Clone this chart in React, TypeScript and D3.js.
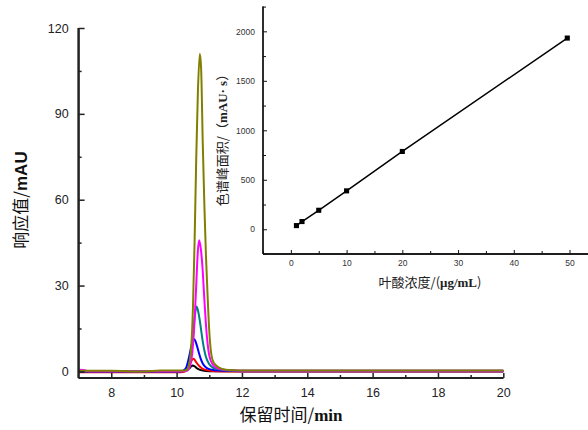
import React, { useEffect, useRef } from 'react';
import * as d3 from 'd3';

// chromatogram traces: [retention time (min), response (mAU)]
const blackTrace: [number, number][] = [[7,0.1],[8,0.05],[9,0],[9.5,0.05],[10,0.05],[10.2,0.1],[10.3,0.3],[10.4,1.2],[10.45,1.8],[10.49,2.1],[10.55,1.8],[10.6,1.3],[10.7,0.6],[10.8,0.3],[11,0.1],[12,0.05],[14,0.05],[16,0.05],[18,0.05],[20,0.05]];
const redTrace: [number, number][] = [[7,-0.3],[8,-0.3],[9,-0.3],[10,-0.3],[10.2,-0.2],[10.3,0.5],[10.4,2.3],[10.45,3.6],[10.51,4.4],[10.55,4.1],[10.6,3.2],[10.7,1.8],[10.8,0.9],[10.9,0.5],[11,0.3],[11.2,0.1],[12,0],[14,0],[16,0],[18,0],[20,0]];
const blueTrace: [number, number][] = [[7,0],[8,0],[9,0],[10,0],[10.15,0.1],[10.25,0.7],[10.3,1.5],[10.35,3.5],[10.4,6],[10.45,8.8],[10.5,10.7],[10.54,11.2],[10.6,9.8],[10.65,7.8],[10.7,5.8],[10.75,4],[10.8,2.8],[10.9,1.4],[11,0.8],[11.2,0.4],[11.5,0.2],[12,0.1],[14,0.1],[16,0.1],[18,0.1],[20,0.1]];
const tealTrace: [number, number][] = [[7,0.1],[8,0.1],[9,0.1],[10,0.1],[10.2,0.1],[10.3,0.4],[10.4,3],[10.45,6.5],[10.5,12],[10.55,18.5],[10.61,22.7],[10.65,21.5],[10.7,18.5],[10.75,14.5],[10.8,10.5],[10.85,7.3],[10.9,5],[11,2.5],[11.1,1.4],[11.2,0.9],[11.4,0.5],[11.7,0.3],[12,0.2],[14,0.2],[16,0.2],[18,0.2],[20,0.2]];
const magentaTrace: [number, number][] = [[7,0.6],[7.15,0.5],[7.3,0.1],[8,0.1],[9,0.1],[10,0.1],[10.2,0.1],[10.3,0.2],[10.4,1.5],[10.5,9],[10.55,18],[10.6,30],[10.65,42],[10.69,45.8],[10.75,42],[10.8,35],[10.85,25],[10.9,16],[10.95,9.5],[11,5.5],[11.1,2.5],[11.2,1.4],[11.3,0.9],[11.5,0.5],[11.8,0.3],[12,0.25],[14,0.25],[16,0.25],[18,0.25],[20,0.25]];
const oliveTrace: [number, number][] = [[7,0.2],[8,0.2],[9,0],[9.5,0.3],[9.9,0.3],[10.2,0.3],[10.3,0.5],[10.35,1.2],[10.4,3.5],[10.45,9],[10.5,22],[10.55,45],[10.6,74],[10.65,97],[10.71,111],[10.75,106],[10.8,80],[10.85,58],[10.9,40],[10.95,26],[11,14],[11.05,7],[11.1,4],[11.2,2.2],[11.3,1.3],[11.5,0.6],[11.8,0.4],[12,0.3],[14,0.3],[16,0.3],[18,0.3],[20,0.3]];

const traces = [blackTrace, redTrace, blueTrace, tealTrace, magentaTrace, oliveTrace];
const traceColors = ['#000000', '#ff0000', '#0000ff', '#008080', '#ff00ff', '#808000'];

// calibration inset
const concentration = [1, 2, 5, 10, 20, 49.6];
const peakArea = [37, 78, 192, 388, 786, 1932];

const W = 588, H = 430;

const App = () => {
  const ref = useRef<SVGSVGElement>(null);

  useEffect(() => {
    const svg = d3.select(ref.current);
    svg.selectAll('*').remove();

    // ---- main chromatogram ----
    const x = d3.scaleLinear().domain([7, 20]).range([78.6, 503.3]);
    const y = d3.scaleLinear().domain([-2.3, 120]).range([378, 28]);
    const axisColor = '#222';

    const line = d3.line<[number, number]>()
      .x(d => x(d[0]))
      .y(d => y(d[1]))
      .curve(d3.curveMonotoneX);

    svg.append('g').selectAll('path').data(traces).enter().append('path')
      .attr('d', d => line(d))
      .attr('fill', 'none')
      .attr('stroke', (d, i) => traceColors[i])
      .attr('stroke-width', 2)
      .attr('stroke-linejoin', 'round');

    const tickFont = '"Liberation Sans", Arial, sans-serif';

    // bottom axis
    const gx = svg.append('g').attr('transform', `translate(0,${y(-2.3)})`);
    gx.call(d3.axisBottom(x).tickValues(d3.range(8, 21, 2)).tickSize(-5).tickPadding(10).tickFormat(d3.format('d')));
    gx.append('g').call(d3.axisBottom(x).tickValues(d3.range(9, 20, 2)).tickSize(-3).tickFormat(() => ''));
    gx.selectAll('.domain').attr('stroke', axisColor).attr('stroke-width', 2).attr('d', `M${x(7)},0H${x(20)}`);
    gx.selectAll('line').attr('stroke', axisColor).attr('stroke-width', 1.5);
    gx.selectAll('text').attr('font-family', tickFont).attr('font-size', 12.5).attr('fill', '#222');

    // left axis
    const gy = svg.append('g').attr('transform', `translate(${x(7)},0)`);
    gy.call(d3.axisLeft(y).tickValues(d3.range(0, 121, 30)).tickSize(-6).tickPadding(10));
    gy.append('g').call(d3.axisLeft(y).tickValues(d3.range(15, 120, 30)).tickSize(-3).tickFormat(() => ''));
    gy.selectAll('.domain').attr('stroke', axisColor).attr('stroke-width', 2).attr('d', `M0,${y(120)}V${y(-2.3)}`);
    gy.selectAll('line').attr('stroke', axisColor).attr('stroke-width', 1.5);
    gy.selectAll('text').attr('font-family', tickFont).attr('font-size', 12.5).attr('fill', '#222');

    // titles
    const xt = svg.append('text').attr('x', 291).attr('y', 421).attr('text-anchor', 'middle')
      .attr('font-size', 17).attr('fill', '#111');
    xt.append('tspan').attr('font-family', '"Noto Sans CJK SC", sans-serif').text('保留时间/');
    xt.append('tspan').attr('font-family', '"Liberation Serif", serif').attr('font-weight', 'bold').text('min');

    const yt = svg.append('text').attr('transform', 'translate(27,200) rotate(-90)').attr('text-anchor', 'middle')
      .attr('font-size', 17).attr('fill', '#111');
    yt.append('tspan').attr('font-family', '"Noto Sans CJK SC", sans-serif').text('响应值/');
    yt.append('tspan').attr('font-family', '"Liberation Sans", Arial, sans-serif').attr('font-weight', 'bold').text('mAU');

    // ---- inset calibration curve ----
    const ix = d3.scaleLinear().domain([-5, 55]).range([263, 263 + 60 * 5.573]);
    const iy = d3.scaleLinear().domain([-250, 2250]).range([254, 6.6]);
    const insetFont = '"Liberation Sans", Arial, sans-serif';

    const gix = svg.append('g').attr('transform', `translate(0,${iy(-250)})`);
    gix.call(d3.axisBottom(ix).tickValues(d3.range(0, 51, 10)).tickSize(-4).tickPadding(6).tickFormat(d3.format('d')));
    gix.append('g').call(d3.axisBottom(ix).tickValues(d3.range(-5, 56, 10)).tickSize(-3).tickFormat(() => ''));
    gix.selectAll('.domain').attr('stroke', '#111').attr('stroke-width', 1.3).attr('d', `M${ix(-5)},0H${W}`);
    gix.selectAll('line').attr('stroke', '#111');
    gix.selectAll('text').attr('font-family', insetFont).attr('font-size', 8.5).attr('fill', '#333');

    const giy = svg.append('g').attr('transform', `translate(${ix(-5)},0)`);
    giy.call(d3.axisLeft(iy).tickValues(d3.range(0, 2001, 500)).tickSize(-4).tickPadding(8).tickFormat(d3.format('d')));
    giy.append('g').call(d3.axisLeft(iy).tickValues(d3.range(-250, 2251, 500)).tickSize(-3).tickFormat(() => ''));
    giy.selectAll('.domain').attr('stroke', '#111').attr('stroke-width', 1.3).attr('d', `M0,${iy(2250)}V${iy(-250)}`);
    giy.selectAll('line').attr('stroke', '#111');
    giy.selectAll('text').attr('font-family', insetFont).attr('font-size', 8.5).attr('fill', '#333');

    const pts: [number, number][] = concentration.map((c, i) => [c, peakArea[i]]);
    svg.append('path')
      .attr('d', d3.line<[number, number]>().x(d => ix(d[0])).y(d => iy(d[1]))(pts))
      .attr('fill', 'none').attr('stroke', '#000').attr('stroke-width', 1.5);
    svg.append('g').selectAll('path').data(pts).enter().append('path')
      .attr('d', d3.symbol(d3.symbolSquare, 26)())
      .attr('transform', d => `translate(${ix(d[0])},${iy(d[1])})`)
      .attr('fill', '#000');

    const ixt = svg.append('text').attr('x', 430).attr('y', 287).attr('text-anchor', 'middle')
      .attr('font-size', 13).attr('fill', '#222');
    ixt.append('tspan').attr('font-family', '"Noto Sans CJK SC", sans-serif').text('叶酸浓度/(');
    ixt.append('tspan').attr('font-family', '"Liberation Serif", serif').attr('font-weight', 'bold').text('μg/mL');
    ixt.append('tspan').attr('font-family', '"Noto Sans CJK SC", sans-serif').text(')');

    const iyt = svg.append('text').attr('transform', 'translate(227,137) rotate(-90)').attr('text-anchor', 'middle')
      .attr('font-size', 13).attr('fill', '#222');
    iyt.append('tspan').attr('font-family', '"Noto Sans CJK SC", sans-serif').text('色谱峰面积/（');
    iyt.append('tspan').attr('font-family', '"Liberation Serif", serif').attr('font-weight', 'bold').text('mAU· s');
    iyt.append('tspan').attr('font-family', '"Noto Sans CJK SC", sans-serif').text('）');
  }, []);

  return (
    <svg ref={ref} width={W} height={H} style={{ position: 'absolute', left: 0, top: 0, background: '#fff' }} />
  );
};

export default App;
